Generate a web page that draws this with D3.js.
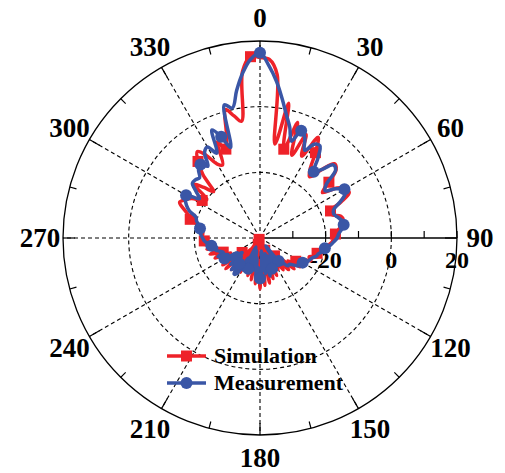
<!DOCTYPE html>
<html>
<head>
<meta charset="utf-8">
<script src="https://cdnjs.cloudflare.com/ajax/libs/d3/7.8.5/d3.min.js"></script>
<style>
body { margin: 0; background: #fff; }
svg text { font-family: "Liberation Serif", "Times New Roman", serif; font-weight: bold; fill: #000; }
</style>
</head>
<body>
<div class="chart"></div>
<script>

var angles = [0,3,6,9,12,15,18,21,24,27,30,33,36,39,42,45,48,51,54,57,
  60,63,66,69,72,75,78,81,84,87,90,93,96,99,102,105,108,111,114,117,
  120,123,126,129,132,135,138,141,144,147,150,153,156,159,162,165,168,171,174,177,
  180,183,186,189,192,195,198,201,204,207,210,213,216,219,222,225,228,231,234,237,
  240,243,246,249,252,255,258,261,264,267,270,273,276,279,282,285,288,291,294,297,
  300,303,306,309,312,315,318,321,324,327,330,333,336,339,342,345,348,351,354,357];

var simulation = [15,14.5,10,-11,2,-12,-3,-13,-5.5,-12,-4.6,-9,-14,-16,-12,-8,-8.8,-13,-16.5,-12,
  -10,-9.5,-13,-17,-17,-14.5,-14,-14.5,-16,-17,-17.5,-18,-19,-19.5,-21,-22,-21.5,-24,-23,-25.5,
  -24,-27,-25,-29,-26,-31,-27,-33,-28,-35,-29,-34,-27.5,-36,-27,-33,-26,-35,-25.5,-32,
  -24.5,-33,-26,-36,-27,-38,-28,-39,-29,-38,-28,-39.5,-27,-36,-27,-34,-26,-33,-26,-31,
  -26.5,-30,-25,-28,-24,-27,-23.5,-25,-22.5,-23,-22,-22.5,-22.5,-22.5,-21,-18,-17,-15,-13.2,-14.4,
  -16,-19,-20,-14,-17,-20,-14,-10,-7.5,-10,-14,-15,-8,-11,-7,0.5,-2,-4,11,15.3];

var measurement = [16.4,12.5,8,3,-1.5,-5,-9,-5,-6.5,-10,-7,-6.5,-10,-14,-12,-8.5,-9,-14,-15.5,-12.5,
  -10.3,-11,-13.5,-16,-16.4,-15.5,-14.5,-14.2,-15,-16,-16.5,-17.5,-18.5,-20,-20.5,-21.5,-22,-23,-23.5,-24,
  -25,-26,-25.5,-27,-28,-28,-30,-31,-37,-30,-33,-29,-34,-30,-35,-28,-32,-29,-36,-30,
  -27.7,-31,-28,-34,-30,-36,-32.4,-30,-37,-29,-33,-27,-26.5,-30,-27,-32,-28,-33,-29,-31.8,
  -27.5,-29,-26,-28,-27,-26,-26.5,-25,-24,-23,-22.5,-22,-21.5,-21.5,-21,-20,-19.5,-17,-15.5,-14.5,
  -14,-18,-16,-13.5,-13.5,-14,-12,-11.2,-13,-9,-8,-11,-4,-7,-11,2,0.5,5.5,10.5,14.5];

var angleTicks = [0,30,60,90,120,150,180,210,240,270,300,330];
var angleMinor = [15,45,75,105,135,165,195,225,255,285,315,345];
var radialLabels = [-40,-20,0,20];
var radialTicks = [-30,-20,-10,0,10,20];
var seriesNames = ["Simulation","Measurement"];

var width = 505;
var height = 473;
var outerR = 197;
var red = "#ee2229";
var blue = "#3a56a6";

var svg = d3.select('.chart').append('svg').attr('width', width).attr('height', height);
var g = svg.append('g').attr('transform', 'translate(260,238)');

var r = d3.scaleLinear().domain([-40, 20]).range([0, outerR]).clamp(true);
var a = d3.scaleLinear().domain([0, 360]).range([0, 2 * Math.PI]);

function px(deg, rad) { return rad * Math.sin(a(deg)); }
function py(deg, rad) { return -rad * Math.cos(a(deg)); }

// dashed rings
g.selectAll('.ring').data([-20, 0]).enter().append('circle')
  .attr('r', function(d) { return r(d); })
  .attr('fill', 'none').attr('stroke', '#000').attr('stroke-width', 1.1)
  .attr('stroke-dasharray', '4,3');

// spokes
g.selectAll('.spoke').data(angleTicks.filter(function(d) { return d !== 90; })).enter().append('line')
  .attr('x1', 0).attr('y1', 0)
  .attr('x2', function(d) { return px(d, outerR); })
  .attr('y2', function(d) { return py(d, outerR); })
  .attr('stroke', '#000').attr('stroke-width', 1.1).attr('stroke-dasharray', '4,3');

// angular ticks
g.selectAll('.majtick').data(angleTicks).enter().append('line')
  .attr('x1', function(d) { return px(d, outerR - 12); })
  .attr('y1', function(d) { return py(d, outerR - 12); })
  .attr('x2', function(d) { return px(d, outerR); })
  .attr('y2', function(d) { return py(d, outerR); })
  .attr('stroke', '#000').attr('stroke-width', 1.2);

g.selectAll('.mintick').data(angleMinor).enter().append('line')
  .attr('x1', function(d) { return px(d, outerR - 7); })
  .attr('y1', function(d) { return py(d, outerR - 7); })
  .attr('x2', function(d) { return px(d, outerR); })
  .attr('y2', function(d) { return py(d, outerR); })
  .attr('stroke', '#000').attr('stroke-width', 1.2);

// outer circle
g.append('circle').attr('r', outerR).attr('fill', 'none').attr('stroke', '#000').attr('stroke-width', 1.3);

// radial axis (to the right)
g.append('line').attr('x1', 0).attr('y1', 0).attr('x2', outerR).attr('y2', 0)
  .attr('stroke', '#000').attr('stroke-width', 1.3);
g.selectAll('.rtick').data(radialTicks).enter().append('line')
  .attr('x1', function(d) { return r(d); }).attr('x2', function(d) { return r(d); })
  .attr('y1', 0).attr('y2', -7)
  .attr('stroke', '#000').attr('stroke-width', 1.2);

g.selectAll('.rlabel').data(radialLabels).enter().append('text')
  .attr('x', function(d) { return r(d); })
  .attr('y', 30)
  .attr('text-anchor', 'middle')
  .style('font-size', '24px')
  .text(function(d) { return d; });

// angle labels
g.selectAll('.alabel').data(angleTicks).enter().append('text')
  .attr('x', function(d) { return px(d, 220); })
  .attr('y', function(d) { return py(d, 220); })
  .attr('text-anchor', 'middle')
  .attr('dominant-baseline', 'central')
  .style('font-size', '27px')
  .text(function(d) { return d; });

// series
var simData = angles.map(function(d, i) { return { angle: d, value: simulation[i] }; });
var meaData = angles.map(function(d, i) { return { angle: d, value: measurement[i] }; });

var line = d3.lineRadial()
  .angle(function(d) { return a(d.angle); })
  .radius(function(d) { return r(d.value); })
  .curve(d3.curveCatmullRomClosed.alpha(0.5));

g.append('path').datum(simData).attr('d', line)
  .attr('fill', 'none').attr('stroke', red).attr('stroke-width', 3.5).attr('stroke-linejoin', 'round');

g.selectAll('.simpt').data(simData.filter(function(d) { return (d.angle + 3) % 18 === 0; }))
  .enter().append('rect')
  .attr('x', function(d) { return px(d.angle, r(d.value)) - 5.5; })
  .attr('y', function(d) { return py(d.angle, r(d.value)) - 5.5; })
  .attr('width', 11).attr('height', 11).attr('fill', red);

g.append('path').datum(meaData).attr('d', line)
  .attr('fill', 'none').attr('stroke', blue).attr('stroke-width', 3.5).attr('stroke-linejoin', 'round');

g.selectAll('.meapt').data(meaData.filter(function(d) {
    var k = Math.round(d.angle / 20) * 20;
    return Math.abs(d.angle - k) <= 1.5 && k < 360;
  }))
  .enter().append('circle')
  .attr('cx', function(d) { return px(d.angle, r(d.value)); })
  .attr('cy', function(d) { return py(d.angle, r(d.value)); })
  .attr('r', 6).attr('fill', blue);

// legend
var legend = svg.append('g').attr('transform', 'translate(167,356)');
legend.selectAll('line').data(seriesNames).enter().append('line')
  .attr('x1', 0).attr('x2', 39)
  .attr('y1', function(d, i) { return i * 27; }).attr('y2', function(d, i) { return i * 27; })
  .attr('stroke', function(d, i) { return i ? blue : red; }).attr('stroke-width', 3.5);
legend.append('rect').attr('x', 14).attr('y', -5.5).attr('width', 11).attr('height', 11).attr('fill', red);
legend.append('circle').attr('cx', 19.5).attr('cy', 27).attr('r', 6).attr('fill', blue);
legend.selectAll('text').data(seriesNames).enter().append('text')
  .attr('x', 47)
  .attr('y', function(d, i) { return i * 27 + 7; })
  .style('font-size', '22px')
  .text(function(d) { return d; });

</script>
</body>
</html>
